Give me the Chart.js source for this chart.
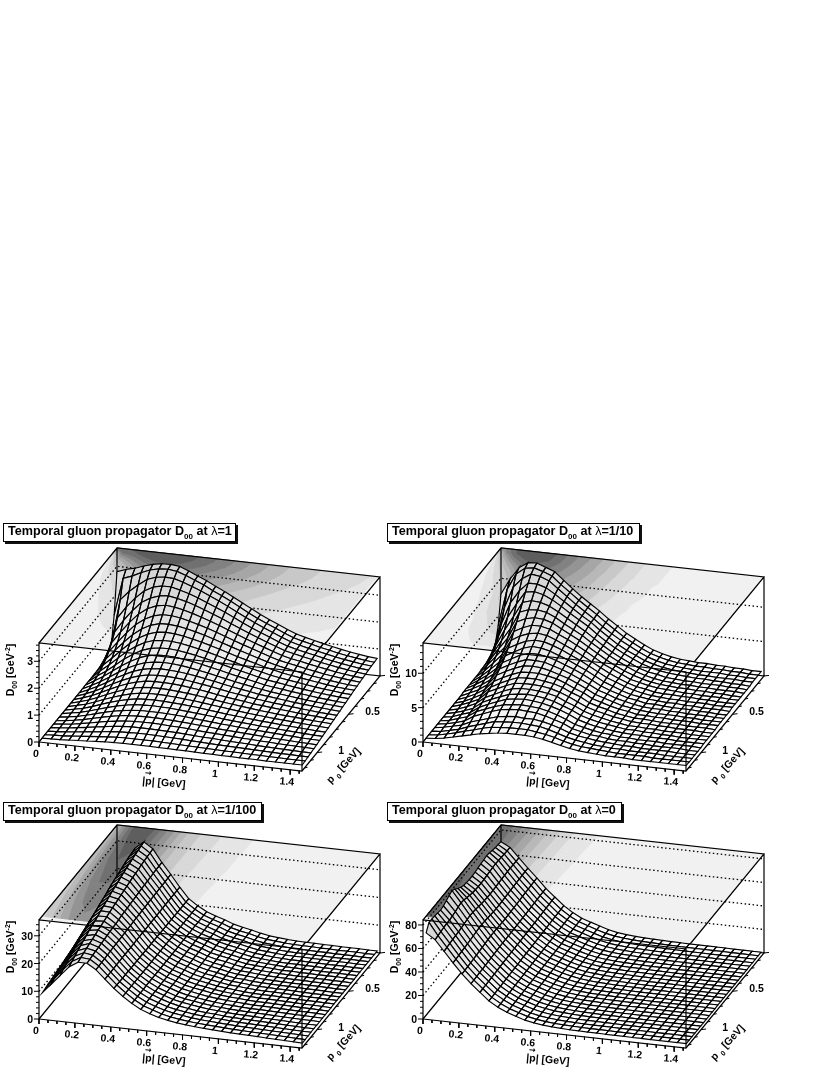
<!DOCTYPE html>
<html>
<head>
<meta charset="utf-8">
<title>Temporal gluon propagator</title>
<script src="https://cdn.jsdelivr.net/npm/chart.js@4"></script>
<style>
  html, body { margin: 0; background: #fff; }
  #page { position: relative; width: 830px; height: 1075px; overflow: hidden; font-family: "Liberation Sans", Arial, sans-serif; font-weight: bold; color: #000; }
  canvas { position: absolute; }
  .title { position: absolute; box-sizing: border-box; height: 19px; line-height: 15px; border: 1px solid #000; box-shadow: 2px 2px 0 #111; background: #fff; padding-left: 4px; font-size: 12.6px; white-space: nowrap; }
  .title sub { font-size: 8px; line-height: 0; }
  .title i { font-style: normal; font-weight: normal; }
  .lab { position: absolute; font-size: 10.5px; line-height: 12px; white-space: nowrap; transform: translate(-50%, -50%); }
  .lab sub { font-size: 7px; line-height: 0; }
  .arrow { position: relative; }
  .arrow b { position: absolute; left: -1px; top: -6px; font: bold 8px "DejaVu Sans"; }
</style>
</head>
<body>
<div id="page"></div>
<script>
/* axes */
const pGrid = [0,.05,.1,.15,.2,.25,.3,.35,.4,.45,.5,.55,.6,.65,.7,.75,.8,.85,.9,.95,1,1.05,1.1,1.15,1.2,1.25,1.3,1.35,1.4,1.45];
const p0Grid = [0,.046,.092,.138,.183,.229,.275,.321,.366,.412,.458,.504,.55,.595,.641,.687,.733,.778,.824,.87,.916,.962,1.007,1.053,1.099,1.145,1.19];
const pTicks = [0,.2,.4,.6,.8,1,1.2,1.4];
const p0Ticks = [.5,1];
const pMax = 1.466, p0Max = 1.24;

/* D00: rows are p0, columns are |p| */
const d00L1 = [ // 0.01 GeV^-2
[280,292,300,312,322,328,329,325,312,297,283,266,250,233,215,197,180,164,150,135,122,113,105,97,90,83,77,72,67,64],
[130,272,284,300,314,322,324,320,308,294,280,263,248,231,213,195,178,163,149,134,121,112,104,96,89,82,76,71,66,63],
[30,205,240,268,292,304,308,306,296,284,271,256,241,225,208,191,175,160,146,132,119,110,102,95,88,81,75,70,65,62],
[12,150,195,232,262,280,288,288,280,270,258,244,230,216,200,184,169,155,142,128,116,107,100,93,86,79,73,68,63,60],
[6,110,158,198,232,252,264,268,262,254,243,231,218,205,190,176,162,149,136,124,112,104,97,90,83,77,71,66,61,58],
[4,84,128,168,202,226,240,246,243,236,227,216,205,193,180,167,154,142,130,118,107,99,93,86,80,74,68,63,59,56],
[3,64,104,142,176,200,216,224,224,219,211,202,192,181,169,157,145,134,123,112,102,95,89,82,76,70,65,61,57,54],
[2,50,85,120,152,177,194,204,205,202,196,188,179,169,158,147,136,126,116,106,97,90,84,78,72,67,62,58,54,52],
[2,40,70,102,132,156,174,185,188,186,181,174,166,157,147,137,127,118,109,100,92,85,79,74,69,64,59,55,52,50],
[1,32,58,87,115,138,156,167,171,171,167,161,154,146,137,128,119,110,102,94,86,80,75,70,65,60,56,53,49,47],
[1,26,48,74,100,122,140,151,156,157,154,149,143,136,128,120,111,104,96,88,81,76,71,66,61,57,53,50,47,45],
[1,21,41,64,88,108,125,137,143,144,142,138,133,126,119,112,104,97,90,83,76,71,67,62,58,54,50,47,44,42],
[1,17,35,55,77,96,112,124,130,132,131,128,123,117,111,104,97,90,84,78,72,67,63,59,55,51,48,45,42,40],
[0,14,30,48,68,85,101,112,118,121,120,118,114,109,103,97,90,84,78,73,67,63,59,55,51,48,45,42,39,37],
[0,12,26,42,60,76,90,101,108,110,110,108,105,100,95,90,84,78,73,68,63,59,55,52,48,45,42,39,37,35],
[0,10,22,37,53,68,81,91,98,100,100,99,96,92,88,83,77,72,67,63,58,55,51,48,45,42,39,37,34,32],
[0,9,19,32,47,60,72,82,88,91,91,90,87,84,80,76,71,66,62,58,54,50,47,44,41,39,36,34,32,30],
[0,8,16,28,41,53,64,73,79,82,82,81,79,76,73,69,65,61,57,53,49,46,43,40,38,35,33,31,29,27],
[0,7,14,24,36,47,57,65,71,73,74,73,71,69,66,63,59,55,51,48,45,42,39,37,34,32,30,28,26,25],
[0,6,12,21,31,41,50,57,63,65,66,65,64,62,59,56,53,50,46,43,40,38,35,33,31,29,27,25,23,22],
[0,5,10,18,27,36,44,50,55,58,58,58,57,55,53,50,47,44,41,39,36,34,32,30,28,26,24,22,21,20],
[0,4,9,15,23,31,38,44,48,50,51,51,50,48,46,44,41,39,36,34,32,30,28,26,24,22,21,19,18,17],
[0,4,7,13,19,26,32,37,41,43,44,44,43,41,40,38,35,33,31,29,27,25,24,22,21,19,18,17,16,15],
[0,3,6,11,16,21,26,31,34,36,36,36,35,34,33,31,29,27,26,24,22,21,20,18,17,16,15,14,13,13],
[0,2,5,8,12,16,20,24,27,28,29,29,28,27,26,25,23,22,20,19,18,17,16,15,14,13,12,12,11,11],
[0,2,3,6,9,12,15,18,20,21,21,21,21,20,19,18,17,16,15,14,13,13,12,11,11,10,10,9,9,9],
[0,1,2,4,6,8,10,12,13,14,14,14,14,13,13,12,12,11,10,10,9,9,8,8,8,7,7,7,7,7]];

const d00L10 = [ // 0.1 GeV^-2
[77,100,118,127,128,123,118,107,96,86,77,68,58,49,40,33,26,20,16,13,11,10,9,9,8,8,7,7,6,6],
[35,90,114,124,126,122,117,106,96,86,77,68,58,49,40,33,26,20,16,13,11,10,9,9,8,8,7,7,6,6],
[14,68,100,114,122,120,115,105,95,85,76,67,57,48,40,33,26,20,16,13,11,10,9,8,8,8,7,7,6,6],
[7,50,82,101,114,114,110,102,93,84,75,67,57,48,39,32,26,20,16,13,11,10,9,8,8,7,7,7,6,6],
[4,37,66,87,106,108,105,99,91,82,74,66,56,47,39,32,26,20,16,13,11,10,9,8,8,7,7,6,6,5],
[3,28,53,74,96,100,99,95,88,80,72,64,55,46,38,31,25,19,15,13,10,9,8,8,7,7,7,6,6,5],
[2,22,43,62,87,92,93,91,85,77,70,63,54,46,38,31,25,19,15,12,10,9,8,8,7,7,6,6,6,5],
[2,18,36,53,78,84,87,86,82,75,68,61,53,45,37,30,24,19,15,12,10,9,8,8,7,7,6,6,5,5],
[1,15,30,45,69,76,81,81,78,72,66,59,52,44,36,30,24,18,15,12,10,9,8,7,7,6,6,6,5,5],
[1,12,25,39,61,69,74,76,74,69,63,57,50,43,36,29,23,18,14,12,9,8,8,7,7,6,6,5,5,5],
[1,10,21,33,55,62,68,71,70,66,61,55,49,42,35,28,23,18,14,11,9,8,7,7,6,6,6,5,5,5],
[1,9,18,29,49,56,63,67,66,63,58,53,47,41,34,27,22,17,13,11,9,8,7,7,6,6,5,5,5,4],
[1,8,16,26,44,51,58,62,62,60,56,51,46,40,33,26,21,17,13,11,8,8,7,6,6,6,5,5,4,4],
[1,7,14,23,40,47,53,58,58,57,53,49,44,38,32,25,21,16,13,10,8,7,7,6,6,5,5,5,4,4],
[0,6,12,21,36,43,49,54,55,54,51,47,43,37,31,24,20,16,12,10,8,7,6,6,6,5,5,4,4,4],
[0,5,11,19,32,39,45,50,51,51,49,46,41,35,30,23,19,15,12,10,7,7,6,6,5,5,5,4,4,4],
[0,4,10,17,29,36,42,47,48,48,46,44,40,34,29,22,18,15,11,9,7,7,6,5,5,5,4,4,4,3],
[0,4,9,15,27,33,39,44,45,45,44,42,38,33,27,21,17,14,11,9,7,6,6,5,5,4,4,4,3,3],
[0,3,8,14,24,30,36,41,43,43,42,40,37,31,26,20,16,13,10,8,6,6,5,5,4,4,4,3,3,3],
[0,3,7,12,22,28,33,38,40,41,40,38,35,30,25,19,15,12,10,8,6,6,5,5,4,4,3,3,3,3],
[0,2,7,11,20,26,31,36,38,39,38,36,33,29,24,18,14,11,9,7,6,5,5,4,4,4,3,3,3,3],
[0,2,6,10,19,24,29,33,35,36,35,34,31,27,22,16,13,10,8,7,5,5,4,4,4,3,3,3,3,2],
[0,2,5,9,17,22,27,31,33,34,33,32,29,25,21,15,12,9,8,6,5,5,4,4,3,3,3,3,2,2],
[0,2,5,8,14,18,22,26,28,29,28,28,26,23,19,14,11,9,7,6,5,4,4,3,3,3,3,2,2,2],
[0,1,4,7,12,16,20,24,25,26,26,25,24,21,17,13,10,8,6,5,4,4,3,3,3,3,2,2,2,2],
[0,1,4,7,11,14,18,21,22,23,23,23,21,19,16,12,9,7,6,5,4,3,3,3,3,2,2,2,2,2],
[0,1,3,6,9,12,15,17,19,20,20,20,19,17,14,11,8,6,5,4,3,3,3,2,2,2,2,2,2,2]];

const d00L100 = [ // 0.1 GeV^-2
[130,210,280,307,285,240,200,158,120,98,80,68,58,46,38,32,24,18,15,12,10,9,9,8,8,7,7,7,6,6],
[129,208,277,305,283,239,200,158,120,98,80,68,58,46,38,32,24,18,15,12,10,9,9,8,8,7,7,7,6,6],
[128,206,275,302,282,239,199,158,120,98,80,68,58,46,38,32,24,18,15,12,10,9,9,8,8,7,7,7,6,6],
[127,204,272,299,280,238,199,158,120,98,80,68,57,45,38,32,24,18,15,12,10,9,9,8,8,7,7,7,6,6],
[126,201,268,296,278,237,199,158,120,98,80,67,57,45,37,31,24,18,15,12,10,9,9,8,8,7,7,7,6,6],
[124,199,264,292,275,236,198,158,121,98,80,67,57,45,37,31,24,18,15,12,10,9,9,8,8,7,7,7,6,6],
[123,196,260,289,273,235,198,158,121,98,80,67,57,45,37,31,24,18,15,12,10,9,9,8,8,7,7,7,6,6],
[121,193,257,285,271,234,197,157,121,98,80,67,56,45,37,31,24,18,15,13,11,9,9,8,8,7,7,7,6,6],
[120,190,253,281,268,233,197,157,121,98,80,66,56,44,37,31,24,18,15,13,11,9,9,8,8,7,7,7,6,5],
[118,186,248,276,265,231,196,157,121,98,80,66,56,44,36,31,24,18,16,13,11,10,9,8,8,7,7,6,6,5],
[115,182,242,272,262,230,196,157,121,99,79,66,55,44,36,30,23,18,16,13,11,10,9,8,8,7,7,6,5,5],
[114,180,238,268,259,229,195,157,122,99,79,65,55,43,36,30,23,18,16,13,11,10,9,8,8,7,7,6,5,5],
[112,176,233,263,256,227,195,157,122,99,79,65,54,43,35,30,23,18,16,13,11,10,9,9,8,7,7,6,5,5],
[110,172,228,258,253,226,194,157,122,99,79,65,54,43,35,30,23,18,16,13,11,10,9,9,8,7,6,6,5,5],
[108,168,223,253,250,225,193,157,122,99,79,64,54,42,35,29,23,18,16,13,11,10,10,9,8,7,6,6,5,5],
[106,164,218,248,247,223,193,157,122,99,79,64,53,42,35,29,23,19,16,13,11,10,10,9,8,7,6,6,5,5],
[103,160,211,242,243,221,192,156,123,99,79,64,53,42,34,29,23,19,16,14,12,10,10,9,8,7,6,6,5,4],
[101,156,206,237,239,220,191,156,123,99,79,63,52,41,34,29,23,19,16,14,12,10,10,9,8,7,6,6,5,4],
[100,152,201,233,236,219,191,156,123,99,79,63,52,41,34,28,23,19,16,14,12,10,10,9,8,7,6,6,5,4],
[98,148,196,228,233,217,190,156,123,99,79,63,52,41,33,28,23,19,16,14,12,10,10,9,8,7,6,6,5,4],
[95,144,189,222,229,215,190,156,123,99,79,62,51,40,33,28,23,19,16,14,12,11,10,9,8,7,6,5,5,4],
[93,139,183,216,225,214,189,156,124,99,79,62,51,40,33,28,23,19,17,14,12,11,10,9,8,7,6,5,4,4],
[91,135,177,211,222,212,188,156,124,100,78,62,50,40,32,27,22,19,17,14,12,11,10,9,8,7,6,5,4,4],
[88,130,171,205,218,211,187,155,124,100,78,61,50,39,32,27,22,19,17,15,13,11,10,9,8,7,6,5,4,4],
[86,125,164,198,214,209,187,155,124,100,78,61,49,39,32,27,22,19,17,15,13,11,10,9,8,7,6,5,4,3],
[83,121,158,192,210,207,186,155,125,100,78,60,49,38,31,26,22,19,17,15,13,11,10,9,8,7,6,5,4,3],
[80,115,150,185,205,205,185,155,125,100,78,60,48,38,31,26,22,19,17,15,13,11,10,9,8,7,6,5,4,3]];

const d00L0 = [ // 0.1 GeV^-2
[700,660,580,500,425,345,280,215,165,125,100,75,52,36,27,21,17,14,12,10,9,8,7,7,6,6,5,5,4,4],
[705,660,580,500,424,344,279,214,164,124,99,74,51,36,27,21,17,14,12,10,9,8,7,7,6,6,5,5,4,4],
[710,662,580,498,422,343,277,212,163,123,98,73,51,35,26,20,16,14,12,10,9,8,7,7,6,5,5,5,4,4],
[715,665,582,497,420,341,276,211,161,122,97,72,50,35,26,20,16,14,12,10,9,8,7,7,6,5,5,5,4,4],
[725,668,582,496,419,340,274,210,160,121,96,71,50,35,26,20,16,13,11,10,8,8,7,6,6,5,5,4,4,4],
[730,670,580,494,417,338,273,208,159,120,95,70,49,34,25,19,16,13,11,9,8,7,7,6,6,5,5,4,4,3],
[725,668,578,492,415,337,271,207,158,119,94,69,49,34,25,19,16,13,11,9,8,7,7,6,6,5,5,4,4,3],
[720,665,576,490,413,335,270,205,157,118,93,69,48,34,25,19,15,13,11,9,8,7,6,6,5,5,4,4,3,3],
[715,660,574,488,411,334,268,204,156,117,92,68,48,33,24,19,15,12,11,9,8,7,6,6,5,5,4,4,3,3],
[710,657,572,486,409,332,267,203,155,116,91,67,47,33,24,18,15,12,10,9,8,7,6,6,5,5,4,4,3,3],
[705,655,570,485,408,331,266,201,154,115,90,66,47,33,24,18,15,12,10,9,7,7,6,5,5,5,4,4,3,3],
[705,655,572,484,406,330,265,200,153,114,89,65,46,32,24,18,14,12,10,8,7,6,6,5,5,4,4,4,3,3],
[710,658,574,486,406,329,264,199,152,113,88,64,45,32,23,18,14,12,10,8,7,6,6,5,5,4,4,3,3,3],
[715,662,578,490,408,329,263,198,151,112,87,63,45,31,23,17,14,11,10,8,7,6,6,5,5,4,4,3,3,3],
[730,670,584,494,410,329,262,197,150,111,86,62,44,31,23,17,14,11,10,8,7,6,6,5,5,4,4,3,3,3],
[750,680,590,498,411,328,261,196,149,110,85,61,43,30,22,17,13,11,9,8,7,6,5,5,4,4,4,3,3,3],
[775,690,594,499,410,327,259,194,148,109,84,60,43,30,22,16,13,11,9,8,7,6,5,5,4,4,4,3,3,2],
[790,695,596,498,408,325,258,193,146,108,83,59,42,29,21,16,13,10,9,8,7,6,5,5,4,4,3,3,3,2],
[780,690,592,494,404,323,256,191,145,107,82,58,41,29,21,16,13,10,9,7,6,6,5,5,4,4,3,3,3,2],
[765,680,586,490,401,321,254,190,144,106,81,57,41,28,21,16,12,10,9,7,6,6,5,5,4,4,3,3,3,2],
[750,672,580,486,398,319,253,188,143,105,80,56,40,28,20,15,12,10,8,7,6,6,5,4,4,4,3,3,2,2],
[745,668,576,483,395,317,251,187,141,104,79,55,39,27,20,15,12,10,8,7,6,5,5,4,4,3,3,3,2,2],
[750,667,574,480,392,315,250,185,140,103,78,54,38,27,20,15,12,9,8,7,6,5,5,4,4,3,3,3,2,2],
[755,665,572,478,390,314,249,184,139,102,77,53,37,26,19,15,11,9,8,7,6,5,5,4,4,3,3,3,2,2],
[760,660,568,475,388,312,247,183,138,101,76,52,36,26,19,14,11,9,8,7,6,5,5,4,4,3,3,3,2,2],
[760,655,564,472,386,311,246,181,136,100,75,51,36,25,18,14,11,9,8,7,6,5,5,4,4,3,3,3,2,2],
[700,650,560,470,385,310,245,180,135,100,75,50,35,25,18,14,11,9,8,7,6,5,5,4,4,3,3,3,2,2]];

const panelData = [d00L1, d00L10, d00L100, d00L0];
const panelUnit = [.01, .1, .1, .1];
const panelLambda = ['1', '1/10', '1/100', '0'];
const zTop = [3.68, 14.4, 35.7, 84.2];
const zTicks = [[0,1,2,3], [0,5,10], [0,10,20,30], [0,20,40,60,80]];
const zMinorStep = [.2, 1, 2, 5];

/* look */
const bandGrays = ['#f1f1f1','#e5e5e5','#d8d8d8','#c8c8c8','#b8b8b8','#a6a6a6','#949494','#828282','#707070','#5e5e5e'];
const panelX = [0, 384, 0, 384], panelY = [515, 515, 792, 792];
const titleTop = [523, 523, 802, 802], titleLeft = [3, 387, 3, 387], titleW = [233, 253, 259, 235];
const W = 400, H = 285;

const page = document.getElementById('page');

/* the plot box is a parallel projection, same for all four panels */
const project = (p, q, z, zMax) => ({
  x: 117 + 263 * p / pMax - 78 * q / p0Max,
  y: 132 + 29 * p / pMax + 95 * q / p0Max - 99 * z / zMax
});
const GAP = { x: NaN, y: NaN };

const lineSet = (data, width, dash) => ({
  data, showLine: true, pointRadius: 0, borderColor: '#000', borderWidth: width,
  borderDash: dash || [], fill: false
});

// part of a grid cell where the value is >= level
const clipCell = (pts, vals, level) => {
  const out = [];
  for (let k = 0; k < 4; k++) {
    const a = vals[k], b = vals[(k + 1) % 4], A = pts[k], B = pts[(k + 1) % 4];
    if (a >= level) out.push(A);
    if ((a >= level) !== (b >= level)) {
      const t = (level - a) / (b - a);
      out.push({ x: A.x + (B.x - A.x) * t, y: A.y + (B.y - A.y) * t });
    }
  }
  return out;
};

const addLabel = (ix, html, x, y, style) => {
  const d = document.createElement('div');
  d.className = 'lab';
  d.innerHTML = html;
  d.style.left = (panelX[ix] + x) + 'px';
  d.style.top = (panelY[ix] + y) + 'px';
  if (style) d.style.cssText += style;
  page.appendChild(d);
};

const makePanel = (ix) => {
  const zMax = zTop[ix];
  const vals = panelData[ix].map(r => r.map(v => v * panelUnit[ix]));
  const peak = Math.max(...vals.flat());
  const P = (p, q, z) => project(p, q, z, zMax);
  const layers = [];

  /* contour bands on the roof */
  const roof = [P(0,0,zMax), P(pMax,0,zMax), P(pMax,p0Max,zMax), P(0,p0Max,zMax), P(0,0,zMax)];
  layers.push({ data: roof, showLine: true, pointRadius: 0, borderWidth: 0, fill: 'shape', backgroundColor: bandGrays[0] });
  for (let k = 1; k < bandGrays.length; k++) {
    const level = peak * k / bandGrays.length, pts = [];
    for (let j = 0; j < p0Grid.length - 1; j++) {
      for (let i = 0; i < pGrid.length - 1; i++) {
        const c = [P(pGrid[i],p0Grid[j],zMax), P(pGrid[i+1],p0Grid[j],zMax), P(pGrid[i+1],p0Grid[j+1],zMax), P(pGrid[i],p0Grid[j+1],zMax)];
        const v = [vals[j][i], vals[j][i+1], vals[j+1][i+1], vals[j+1][i]];
        const poly = clipCell(c, v, level);
        if (poly.length > 2) pts.push(...poly, poly[0], GAP);
      }
    }
    layers.push({ data: pts, showLine: true, pointRadius: 0, borderColor: bandGrays[k], borderWidth: .6, fill: 'shape', backgroundColor: bandGrays[k] });
  }

  /* dotted wall grid */
  const dots = [];
  zTicks[ix].filter(z => z > 0).forEach(z => dots.push(P(0,p0Max,z), P(0,0,z), P(pMax,0,z), GAP));
  layers.push(lineSet(dots, 1.3, [1.5, 2.5]));

  /* back of the box */
  layers.push(lineSet([P(0,p0Max,zMax), P(0,0,zMax), P(pMax,0,zMax), P(pMax,p0Max,zMax), GAP,
    P(0,0,0), P(0,0,zMax), GAP, P(pMax,0,0), P(pMax,0,zMax), GAP,
    P(0,p0Max,0), P(0,0,0), P(pMax,0,0), P(pMax,p0Max,0), P(0,p0Max,0)], 1.2));

  /* surface, far rows first */
  for (let j = 0; j < p0Grid.length - 1; j++) {
    const pts = [], cols = [];
    for (let i = 0; i < pGrid.length - 1; i++) {
      const a = P(pGrid[i],p0Grid[j],vals[j][i]), b = P(pGrid[i+1],p0Grid[j],vals[j][i+1]);
      const c = P(pGrid[i+1],p0Grid[j+1],vals[j+1][i+1]), d = P(pGrid[i],p0Grid[j+1],vals[j+1][i]);
      pts.push(a, b, c, d, a, GAP);
      const mean = (vals[j][i] + vals[j][i+1] + vals[j+1][i+1] + vals[j+1][i]) / 4;
      const g = Math.round(255 - 45 * mean / peak);
      cols.push(`rgb(${g},${g},${g})`);
    }
    layers.push({
      data: pts, showLine: true, pointRadius: 0, borderColor: '#000', borderWidth: 1.15,
      fill: 'shape', backgroundColor: '#fff',
      segment: { backgroundColor: c => cols[Math.floor(c.p0DataIndex / 6)] }
    });
  }

  /* front of the box */
  layers.push(lineSet([P(0,p0Max,0), P(0,p0Max,zMax), P(pMax,p0Max,zMax), P(pMax,p0Max,0), GAP], 1.2));

  /* ticks */
  const tickMarks = [];
  for (let k = 0; k <= Math.round(1.45 / .05); k++) {
    const p = k * .05, a = P(p,p0Max,0), len = k % 4 === 0 ? 5 : 3;
    tickMarks.push(a, { x: a.x, y: a.y + len }, GAP);
  }
  for (let k = 0; k <= 12; k++) {
    const a = P(pMax,k * .1,0), len = k % 5 === 0 ? 5 : 3;
    tickMarks.push(a, { x: a.x + len, y: a.y - .6 }, GAP);
  }
  for (let z = 0; z < zMax; z += zMinorStep[ix]) {
    const a = P(0,p0Max,z), major = zTicks[ix].some(t => Math.abs(t - z) < 1e-6);
    tickMarks.push(a, { x: a.x - (major ? 5 : 3), y: a.y }, GAP);
  }
  layers.push(lineSet(tickMarks, 1));

  const cv = document.createElement('canvas');
  cv.width = W; cv.height = H;
  cv.style.left = panelX[ix] + 'px';
  cv.style.top = panelY[ix] + 'px';
  page.appendChild(cv);

  new Chart(cv, {
    type: 'scatter',
    data: { datasets: layers.reverse() },
    options: {
      responsive: false, animation: false, events: [],
      layout: { padding: 0 },
      plugins: { legend: { display: false }, tooltip: { enabled: false } },
      scales: {
        x: { type: 'linear', min: 0, max: W, display: false },
        y: { type: 'linear', min: 0, max: H, reverse: true, display: false }
      }
    }
  });

  /* text */
  const t = document.createElement('div');
  t.className = 'title';
  t.innerHTML = `Temporal gluon propagator D<sub>00</sub> at <i>λ</i>=${panelLambda[ix]}`;
  t.style.left = titleLeft[ix] + 'px';
  t.style.top = titleTop[ix] + 'px';
  t.style.width = titleW[ix] + 'px';
  page.appendChild(t);

  pTicks.forEach(v => {
    const a = P(v,p0Max,0);
    addLabel(ix, String(v), a.x - 3, a.y + 11, 'transform:translate(-50%,-50%) rotate(5deg)');
  });
  p0Ticks.forEach(v => {
    const a = P(pMax,v,0);
    addLabel(ix, String(v), a.x + 24, a.y - 3);
  });
  zTicks[ix].forEach(v => {
    const a = P(0,p0Max,v);
    addLabel(ix, String(v), a.x - 11, a.y, 'transform:translate(-100%,-50%);left:' + (panelX[ix] + a.x - 6) + 'px');
  });
  addLabel(ix, 'D<sub>00</sub> [GeV<sup style="font-size:7px;line-height:0">-2</sup>]', 10, 155, 'transform:translate(-50%,-50%) rotate(-90deg)');
  addLabel(ix, '|<span class="arrow">p<b>\u2192</b></span>| [GeV]', 164, 267, 'transform:translate(-50%,-50%) rotate(5deg)');
  addLabel(ix, 'p&nbsp;<sub>0</sub>&nbsp;[GeV]', 343, 250, 'transform:translate(-50%,-50%) rotate(-47deg)');
};

[0, 1, 2, 3].forEach(makePanel);
</script>
</body>
</html>
